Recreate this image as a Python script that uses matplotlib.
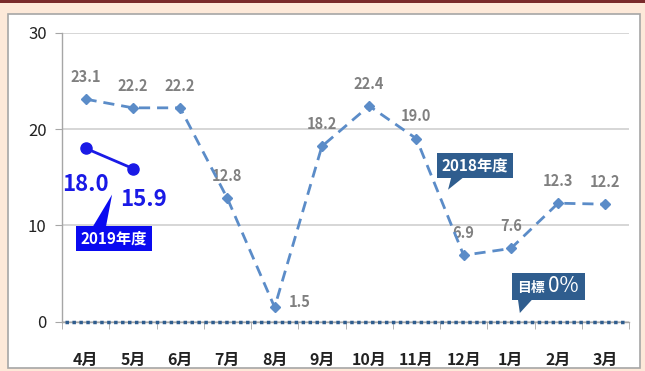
import matplotlib
matplotlib.use("Agg")
import matplotlib.pyplot as plt
from matplotlib.patches import Rectangle, Polygon

plt.rcParams['font.family'] = ['Noto Sans CJK JP', 'DejaVu Sans']

months = ["4月", "5月", "6月", "7月", "8月", "9月", "10月", "11月", "12月", "1月", "2月", "3月"]
fy2018 = [23.1, 22.2, 22.2, 12.8, 1.5, 18.2, 22.4, 19.0, 6.9, 7.6, 12.3, 12.2]
fy2019 = [18.0, 15.9]
target = 0
yticks = [0, 10, 20, 30]

W, H = 645, 371
fig = plt.figure(figsize=(W / 100, H / 100), dpi=100)
fig.patch.set_facecolor("#fde9d9")
# top dark band
fig.add_artist(Rectangle((0, 1 - 3 / H), 1, 3 / H, transform=fig.transFigure,
                         facecolor="#7a2b2b", edgecolor="none", zorder=-2))
# white panel
fig.add_artist(Rectangle((8 / W, 3 / H), 632 / W, (H - 17) / H, transform=fig.transFigure,
                         facecolor="white", edgecolor="#a6a6a6", linewidth=1.2, zorder=-2))

ax = fig.add_axes([62 / W, (H - 321.7) / H, 567 / W, 289 / H])
ax.set_facecolor("none")
x = list(range(len(months)))

ax.set_xlim(-0.5, len(months) - 0.5)
ax.set_ylim(0, 30)
ax.set_yticks(yticks)
ax.set_yticklabels([str(v) for v in yticks], fontsize=12, color="#222222")
ax.yaxis.grid(True, color="#d0d0d0", linewidth=1.2, linestyle="-")
ax.set_axisbelow(True)
ax.set_xticks(x)
ax.set_xticklabels(months, fontsize=11.5, fontweight="bold", color="#222222")
ax.set_xticks([i - 0.5 for i in range(len(months) + 1)], minor=True)
ax.tick_params(axis="x", which="major", length=0, pad=22)
ax.tick_params(axis="x", which="minor", length=5, color="#a6a6a6")
ax.tick_params(axis="y", length=5, color="#a6a6a6", pad=6)
for s in ["top", "right"]:
    ax.spines[s].set_visible(False)
for s in ["left", "bottom"]:
    ax.spines[s].set_color("#a6a6a6")
    ax.spines[s].set_linewidth(1.0)

# target line
ax.axhline(target, xmin=0.005, xmax=0.995, color="#2f5d8e", linestyle=(0, (1, 1)),
           linewidth=2.5, clip_on=False, zorder=3)

# FY2018
c18 = "#5b8cc8"
ax.plot(x, fy2018, color=c18, linestyle=(0, (4, 2.5)), linewidth=2, marker="D",
        markersize=5, markerfacecolor=c18, markeredgecolor=c18, zorder=4)
for xi, v in zip(x, fy2018):
    if xi == 4:
        ax.annotate(f"{v:.1f}", (xi, v), xytext=(10, 4), textcoords="offset points",
                    ha="left", va="center", fontsize=10.5, fontweight="bold", color="#808080")
    else:
        ax.annotate(f"{v:.1f}", (xi, v), xytext=(0, 16), textcoords="offset points",
                    ha="center", va="center", fontsize=10.5, fontweight="bold", color="#808080")

# FY2019
c19 = "#1a1ae6"
ax.plot(x[:len(fy2019)], fy2019, color=c19, linewidth=2, marker="o", markersize=8, zorder=5)
ax.annotate(f"{fy2019[0]:.1f}", (0, fy2019[0]), xytext=(0, -26), textcoords="offset points",
            ha="center", va="center", fontsize=16, fontweight="bold", color=c19)
ax.annotate(f"{fy2019[1]:.1f}", (1, fy2019[1]), xytext=(8, -22), textcoords="offset points",
            ha="center", va="center", fontsize=16, fontweight="bold", color=c19)

# callouts
def callout(cx, cy, text, color, tail, fs, **kw):
    ax.add_patch(Polygon(tail, closed=True, facecolor=color, edgecolor="none", zorder=6))
    ax.text(cx, cy, text, ha="center", va="center", color="white", fontsize=fs,
            fontweight="bold", zorder=7,
            bbox=dict(boxstyle="square,pad=0.3", facecolor=color, edgecolor="none"), **kw)

callout(0.6, 8.6, "2019年度", "#0a0af0",
        [(0.12, 9.6), (0.42, 9.6), (0.56, 13.2)], 11)
callout(8.24, 16.2, "2018年度", "#2f5d8e",
        [(7.75, 15.2), (8.05, 15.2), (7.67, 13.7)], 11)

# target callout
ax.add_patch(Rectangle((9.02, 2.25), 1.55, 2.8, facecolor="#2f5d8e", edgecolor="none", zorder=7))
ax.add_patch(Polygon([(9.15, 2.3), (9.45, 2.3), (9.19, 0.9)], closed=True,
                     facecolor="#2f5d8e", edgecolor="none", zorder=6))
ax.text(9.42, 3.55, "目標", ha="center", va="center", color="white", fontsize=10,
        fontweight="bold", zorder=8)
ax.text(10.12, 3.75, "0%", ha="center", va="center", color="white", fontsize=15,
        zorder=8)

fig.savefig("out.png", dpi=100, facecolor=fig.get_facecolor())
